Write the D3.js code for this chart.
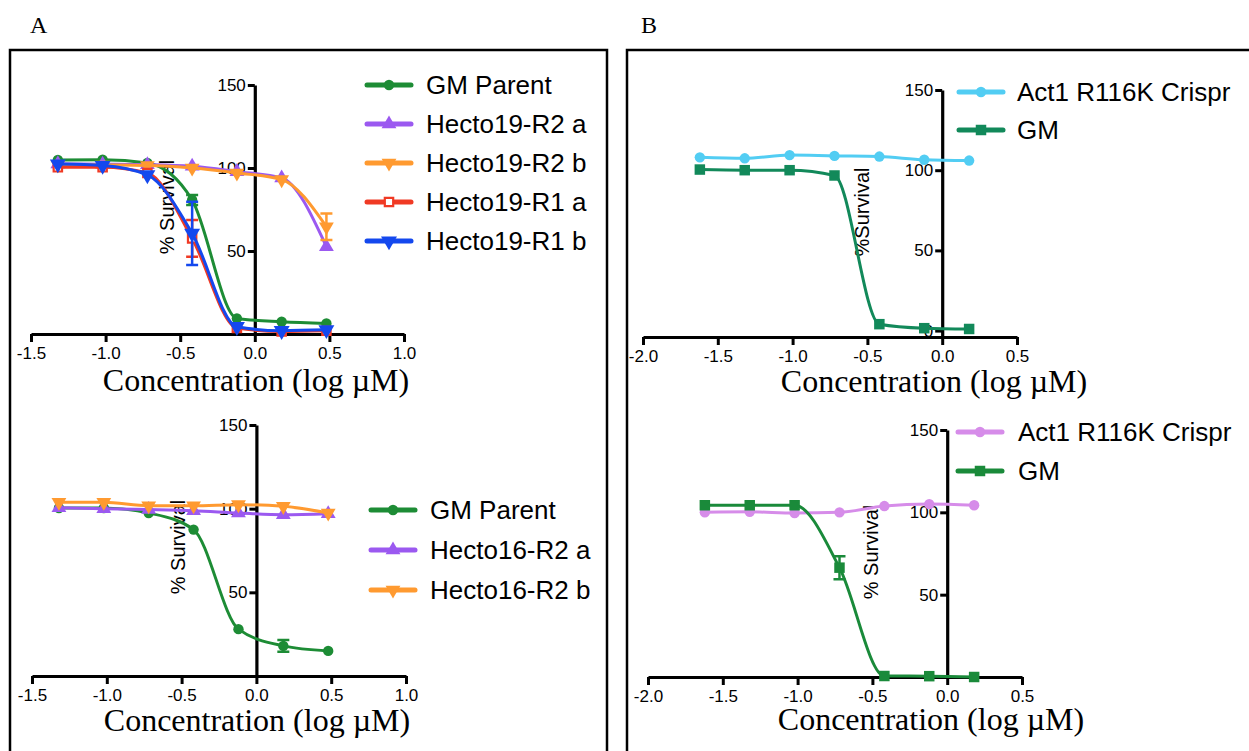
<!DOCTYPE html>
<html>
<head>
<meta charset="utf-8">
<script src="https://cdn.jsdelivr.net/npm/d3@7"></script>
<style>
body { margin: 0; background: #fff; }
svg { display: block; }
</style>
</head>
<body>
<script>
// concentrations, log uM
var concA = [-1.32, -1.02, -0.72, -0.42, -0.12, 0.18, 0.48];
var concB = [-1.62, -1.32, -1.02, -0.72, -0.42, -0.12, 0.18];
var ticksA = [-1.5, -1.0, -0.5, 0, 0.5, 1.0];
var ticksB = [-2.0, -1.5, -1.0, -0.5, 0, 0.5];
var yTicks = [50, 100, 150];
var yTicksZero = [0, 50, 100, 150];

// panel A, top : Hecto19
var a1Names = ["GM Parent", "Hecto19-R2 a", "Hecto19-R2 b", "Hecto19-R1 a", "Hecto19-R1 b"];
var a1GM  = [104.8, 105.0, 103.0, 80.7, 9.4, 7.4, 6.4];
var a1R2a = [102.5, 102.3, 102.0, 101.0, 97.8, 94.0, 52.6];
var a1R2b = [102.0, 101.8, 101.5, 100.0, 97.0, 93.0, 64.6];
var a1R1a = [100.4, 100.4, 97.0, 57.6, 3.6, 1.5, 2.0];
var a1R1b = [102.4, 101.5, 95.8, 60.6, 4.4, 2.0, 2.5];
var a1ErrGM  = [0, 0, 0, 3, 0, 0, 0];
var a1ErrR2b = [0, 0, 0, 0, 0, 0, 8];
var a1ErrR1a = [0, 0, 0, 11, 0, 0, 0];
var a1ErrR1b = [0, 0, 0, 19, 0, 0, 0];

// panel A, bottom : Hecto16
var a2Names = ["GM Parent", "Hecto16-R2 a", "Hecto16-R2 b"];
var a2GM  = [100.4, 100.4, 97.4, 87.5, 28.0, 18.0, 15.0];
var a2R2a = [100.5, 100.0, 99.5, 98.8, 97.4, 96.4, 97.0];
var a2R2b = [103.8, 103.8, 101.8, 101.8, 102.4, 101.4, 97.4];
var a2ErrGM = [0, 0, 0, 0, 0, 3.5, 0];

// panel B, top
var b1Names = ["Act1 R116K Crispr", "GM"];
var b1Act = [108.0, 107.4, 109.4, 108.9, 108.5, 106.5, 106.0];
var b1GM  = [100.4, 100.0, 100.0, 96.7, 4.0, 1.5, 1.0];

// panel B, bottom
var b2Names = ["Act1 R116K Crispr", "GM"];
var b2Act = [100.0, 100.3, 99.6, 100.0, 103.8, 105.0, 104.3];
var b2GM  = [104.3, 104.3, 104.3, 66.4, 0.6, 0.5, 0.0];
var b2ErrGM = [0, 0, 0, 7, 0, 0, 0];

var sans = "'Liberation Sans', Arial, sans-serif";
var serif = "'Liberation Serif', 'Times New Roman', serif";

var svg = d3.select("body").append("svg").attr("width", 1249).attr("height", 751);

// panel frames
svg.append("rect").attr("x", 10).attr("y", 50).attr("width", 597).attr("height", 740)
    .attr("fill", "none").attr("stroke", "#000").attr("stroke-width", 2.5);
svg.append("rect").attr("x", 627).attr("y", 50).attr("width", 660).attr("height", 740)
    .attr("fill", "none").attr("stroke", "#000").attr("stroke-width", 2.5);
svg.append("text").attr("x", 30).attr("y", 33).text("A")
    .attr("font-family", serif).attr("font-size", 24);
svg.append("text").attr("x", 641).attr("y", 33).text("B")
    .attr("font-family", serif).attr("font-size", 24);

function marker(sel, m) {
    var sym = sel.append("path").attr("d", d3.symbol().type(m.shape).size(m.size)());
    if (m.down) sym.attr("transform", "rotate(180)");
    if (m.open) sym.attr("fill", "#fff").attr("stroke", m.color).attr("stroke-width", 2.2);
    else sym.attr("fill", m.color);
    return sym;
}

function drawPlot(p) {
    var g = svg.append("g");
    var x = d3.scaleLinear().domain(p.xDomain).range([p.left, p.right]);
    var y = d3.scaleLinear().domain([p.yMin, 150]).range([p.bottom, p.top]);

    // x axis
    var xa = g.append("g").attr("transform", "translate(0," + y(p.yMin) + ")")
        .call(d3.axisBottom(x).tickValues(p.xTicks).tickSize(8).tickSizeOuter(0).tickPadding(5)
            .tickFormat(function(d) { return d.toFixed(1); }));
    // y axis
    var ya = g.append("g").attr("transform", "translate(" + x(0) + ",0)")
        .call(d3.axisLeft(y).tickValues(p.yTicks).tickSize(7).tickSizeOuter(0).tickPadding(2));
    [xa, ya].forEach(function(a) {
        a.attr("font-size", 17).attr("font-family", sans);
        a.select(".domain").attr("stroke-width", 3.2);
        a.selectAll(".tick line").attr("stroke-width", 3);
        a.selectAll(".tick text").attr("fill", "#000");
    });

    g.append("text").attr("x", p.titleX).attr("y", p.titleY)
        .attr("text-anchor", "middle").attr("font-family", serif).attr("font-size", 32)
        .text("Concentration (log \u00B5M)");
    g.append("text").attr("transform", "translate(" + p.ytX + "," + p.ytY + ") rotate(-90)")
        .attr("text-anchor", "middle").attr("dominant-baseline", "central")
        .attr("font-family", sans).attr("font-size", 20).text(p.yTitle);

    var line = d3.line().x(function(d) { return x(d[0]); }).y(function(d) { return y(d[1]); })
        .curve(d3.curveMonotoneX);

    p.series.forEach(function(s) {
        var pts = p.conc.map(function(c, i) { return [c, s.values[i]]; });
        g.append("path").datum(pts).attr("d", line).attr("fill", "none")
            .attr("stroke", s.m.color).attr("stroke-width", 3);
        if (s.err) {
            s.err.forEach(function(e, i) {
                if (!e) return;
                var cx = x(p.conc[i]), v = s.values[i];
                g.append("path").attr("d",
                    "M" + cx + "," + y(v - e) + "V" + y(v + e) +
                    "M" + (cx - 6) + "," + y(v - e) + "H" + (cx + 6) +
                    "M" + (cx - 6) + "," + y(v + e) + "H" + (cx + 6))
                    .attr("stroke", s.m.color).attr("stroke-width", 2.5).attr("fill", "none");
            });
        }
        pts.forEach(function(d) {
            var mg = g.append("g").attr("transform", "translate(" + x(d[0]) + "," + y(d[1]) + ")");
            marker(mg, s.m);
        });
    });

    // legend
    p.series.forEach(function(s, i) {
        var ly = p.legY + i * p.legStep;
        var lg = g.append("g").attr("transform", "translate(" + p.legX + "," + ly + ")");
        lg.append("line").attr("x1", 0).attr("x2", 44).attr("stroke", s.m.color)
            .attr("stroke-width", 5).attr("stroke-linecap", "round");
        marker(lg.append("g").attr("transform", "translate(22,0)"), s.m);
        lg.append("text").attr("x", p.legText).attr("y", 0).attr("dy", "0.36em")
            .attr("font-family", sans).attr("font-size", 26)
            .text(s.name);
    });
}

var green = "#1d8c35", purple = "#9b59f0", orange = "#ff9a30", red = "#f03a24", blue = "#1448ee";
var mCircle = function(c) { return { shape: d3.symbolCircle, size: 85, color: c }; };

drawPlot({
    conc: concA, xDomain: [-1.5, 1.0], xTicks: ticksA, yTicks: yTicks, yMin: 0,
    left: 31, right: 404, top: 85, bottom: 334,
    titleX: 256, titleY: 391, ytX: 167, ytY: 207, yTitle: "% Survival",
    legX: 367, legY: 85, legStep: 39, legText: 59,
    series: [
        { name: a1Names[0], values: a1GM, err: a1ErrGM, m: mCircle(green) },
        { name: a1Names[1], values: a1R2a, m: { shape: d3.symbolTriangle, size: 95, color: purple } },
        { name: a1Names[2], values: a1R2b, err: a1ErrR2b, m: { shape: d3.symbolTriangle, size: 95, color: orange, down: true } },
        { name: a1Names[3], values: a1R1a, err: a1ErrR1a, m: { shape: d3.symbolSquare, size: 70, color: red, open: true } },
        { name: a1Names[4], values: a1R1b, err: a1ErrR1b, m: { shape: d3.symbolTriangle, size: 110, color: blue, down: true } }
    ]
});

drawPlot({
    conc: concA, xDomain: [-1.5, 1.0], xTicks: ticksA, yTicks: yTicks, yMin: 0,
    left: 32, right: 406, top: 425, bottom: 676,
    titleX: 257, titleY: 731, ytX: 178, ytY: 547, yTitle: "% Survival",
    legX: 371, legY: 510, legStep: 40, legText: 59,
    series: [
        { name: a2Names[0], values: a2GM, err: a2ErrGM, m: mCircle(green) },
        { name: a2Names[1], values: a2R2a, m: { shape: d3.symbolTriangle, size: 95, color: purple } },
        { name: a2Names[2], values: a2R2b, m: { shape: d3.symbolTriangle, size: 95, color: orange, down: true } }
    ]
});

drawPlot({
    conc: concB, xDomain: [-2.0, 0.5], xTicks: ticksB, yTicks: yTicksZero, yMin: -4,
    left: 643, right: 1017, top: 90, bottom: 337,
    titleX: 934, titleY: 392, ytX: 862, ytY: 212, yTitle: "%Survival",
    legX: 959, legY: 92, legStep: 38, legText: 58,
    series: [
        { name: b1Names[0], values: b1Act, m: mCircle("#52cdf3") },
        { name: b1Names[1], values: b1GM, m: { shape: d3.symbolSquare, size: 110, color: "#12895a" } }
    ]
});

drawPlot({
    conc: concB, xDomain: [-2.0, 0.5], xTicks: ticksB, yTicks: yTicks, yMin: 0,
    left: 648, right: 1022, top: 430, bottom: 677,
    titleX: 931, titleY: 730, ytX: 871, ytY: 552, yTitle: "% Survival",
    legX: 958, legY: 432, legStep: 39, legText: 60,
    series: [
        { name: b2Names[0], values: b2Act, m: mCircle("#d68ce9") },
        { name: b2Names[1], values: b2GM, err: b2ErrGM, m: { shape: d3.symbolSquare, size: 110, color: "#1a8a3a" } }
    ]
});
</script>
</body>
</html>
